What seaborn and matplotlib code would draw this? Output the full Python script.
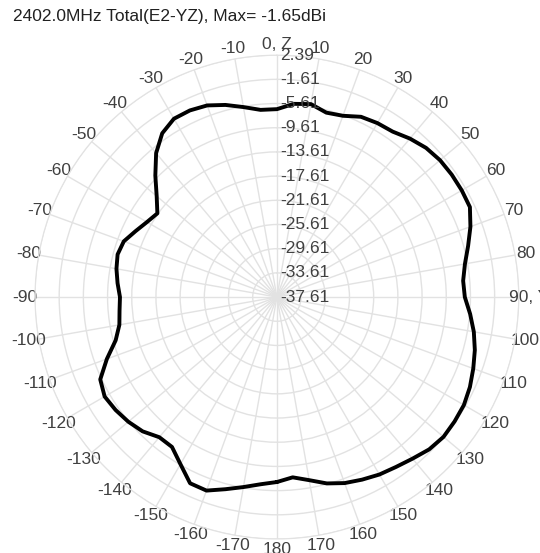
import numpy as np
import pandas as pd
import matplotlib
matplotlib.use('Agg')
import matplotlib.pyplot as plt
import matplotlib.transforms as mtransforms
import seaborn as sns

# angle (deg, 0 = Z, clockwise positive) and total gain in dBi
angles_deg = list(range(-180, 181, 5))
gain_db = [-7.03, -6.54, -5.71, -4.72, -3.56, -3.64, -5.71, -7.36, -7.36, -6.21,
           -5.54, -5.05, -4.72, -5.38, -7.69, -10.01, -11.16, -11.49, -11.66, -11.16,
           -10.67, -10.34, -10.67, -11.82, -12.80, -13.48, -11.66, -9.18, -6.54, -4.55,
           -3.56, -3.56, -3.89, -4.72, -5.71, -6.54, -6.54, -5.54, -5.21, -6.04,
           -5.71, -4.72, -4.39, -4.22, -3.40, -2.73, -2.40, -2.32, -2.32, -2.40,
           -3.56, -4.88, -6.04, -6.70, -6.54, -5.54, -4.55, -3.73, -3.06, -2.40,
           -1.91, -1.75, -1.65, -2.00, -2.73, -3.31, -3.73, -4.30, -4.88, -5.71,
           -6.87, -7.69, -7.03]

r_min = -37.61
r_max = 2.39
r_ticks = [round(r_min + 4 * k, 2) for k in range(11)]

theta_ticks = list(range(0, 360, 10))
theta_labels = []
for a in theta_ticks:
    if a == 0:
        theta_labels.append('0, Z')
    elif a == 90:
        theta_labels.append('90, Y')
    elif a <= 180:
        theta_labels.append(str(a))
    else:
        theta_labels.append(str(a - 360))

title = '2402.0MHz Total(E2-YZ), Max= -1.65dBi'

df = pd.DataFrame({'theta': np.deg2rad(angles_deg), 'gain': gain_db})

sns.set_style('white')
plt.rcParams['font.family'] = ['Liberation Sans', 'DejaVu Sans']

fig = plt.figure(figsize=(5.4, 5.53), dpi=100)
ax = fig.add_axes([0.0648, 0.0253, 0.896, 0.875], projection='polar')
sns.lineplot(data=df, x='theta', y='gain', ax=ax, sort=False,
             color='black', linewidth=2.8)

ax.set_theta_zero_location('N')
ax.set_theta_direction(-1)
ax.set_ylim(r_min, r_max)
ax.set_yticks(r_ticks)
ax.set_yticklabels([])
ax.set_xticks(np.deg2rad(theta_ticks))
ax.set_xticklabels(theta_labels, fontsize=12.5, color='#404040')
ax.tick_params(axis='x', pad=-3)
ax.grid(color='#e2e2e2', linewidth=1)
ax.spines['polar'].set_color('#e2e2e2')
ax.set_xlabel('')
ax.set_ylabel('')

off = mtransforms.offset_copy(ax.transData, fig=fig, x=3, y=0, units='dots')
for r in r_ticks:
    ax.text(0, r, f'{r:.2f}', transform=off, ha='left', va='center',
            fontsize=12.5, color='#404040', clip_on=False)

fig.text(13 / 540, 1 - 16 / 553, title, ha='left', va='center',
         fontsize=12.5, color='#202020')

fig.savefig('out.png', dpi=100)
